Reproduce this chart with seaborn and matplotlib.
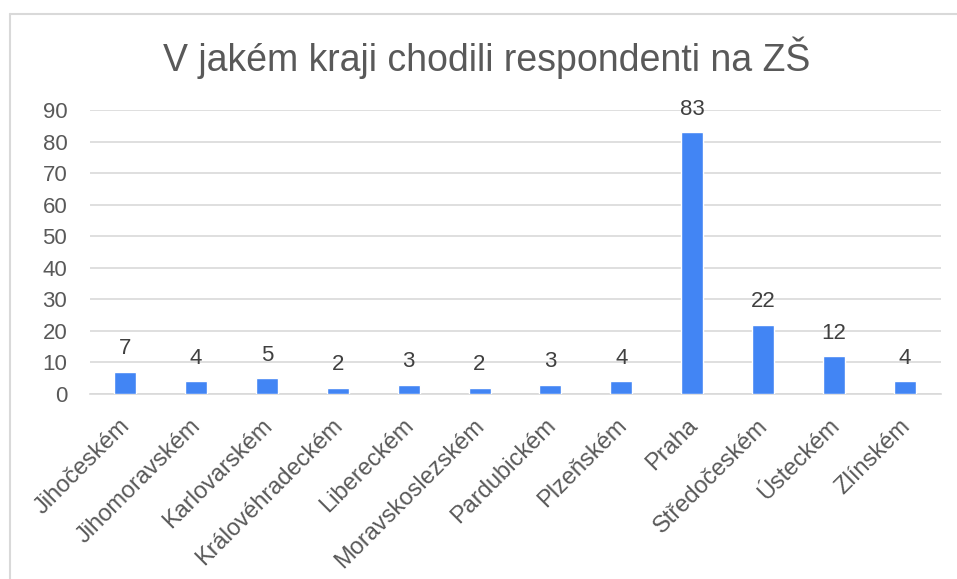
import matplotlib
matplotlib.use("Agg")
import matplotlib.pyplot as plt
import matplotlib.transforms as mtransforms
import seaborn as sns
import pandas as pd
from matplotlib.lines import Line2D

categories = ["Jihočeském", "Jihomoravském", "Karlovarském", "Královéhradeckém",
              "Libereckém", "Moravskoslezském", "Pardubickém", "Plzeňském",
              "Praha", "Středočeském", "Ústeckém", "Zlínském"]
values = [7, 4, 5, 2, 3, 2, 3, 4, 83, 22, 12, 4]
yticks = [0, 10, 20, 30, 40, 50, 60, 70, 80, 90]
title = "V jakém kraji chodili respondenti na ZŠ"

sns.set_style("white")
plt.rcParams['font.family'] = ['Liberation Sans', 'DejaVu Sans']

df = pd.DataFrame({"kraj": categories, "pocet": values})

W, H = 957, 579
fig = plt.figure(figsize=(W / 100, H / 100), dpi=100)
fig.patch.set_facecolor("white")

# chart border (left and top edges visible)
bx, by = 9.5 / W, (H - 13.5) / H
fig.add_artist(Line2D([bx, bx], [0, by], transform=fig.transFigure,
                      color="#D9D9D9", linewidth=1.5))
fig.add_artist(Line2D([bx, 1], [by, by], transform=fig.transFigure,
                      color="#D9D9D9", linewidth=1.5))

ax = fig.add_axes([89.5 / W, (H - 394) / H, 851 / W, 284 / H])
sns.barplot(data=df, x="kraj", y="pocet", color="#4285F4", width=0.31,
            saturation=1, ax=ax, zorder=3)

ax.set_ylim(0, 90)
ax.set_yticks(yticks)
ax.set_xlim(-0.5, len(categories) - 0.5)
ax.grid(axis="y", color="#D9D9D9", linewidth=1.2, zorder=0)
ax.set_axisbelow(True)
for s in ["top", "right", "left"]:
    ax.spines[s].set_visible(False)
ax.spines["bottom"].set_color("#D9D9D9")
ax.spines["bottom"].set_linewidth(1.2)
ax.set_xlabel("")
ax.set_ylabel("")
ax.tick_params(axis="both", length=0, labelcolor="#595959")
ax.tick_params(axis="y", pad=16, labelsize=16)
ax.tick_params(axis="x", pad=10, labelsize=17)
offset = mtransforms.ScaledTranslation(-0.06, -0.07, fig.dpi_scale_trans)
for lbl in ax.get_xticklabels():
    lbl.set_rotation(45)
    lbl.set_ha("right")
    lbl.set_rotation_mode("anchor")
    lbl.set_transform(lbl.get_transform() + offset)

for c in ax.containers:
    ax.bar_label(c, labels=[str(v) for v in values], padding=9, fontsize=16,
                 color="#404040")

fig.text(487 / W, (H - 58) / H, title, ha="center", va="center", fontsize=27,
         color="#595959")

fig.savefig("out.png", dpi=100)
